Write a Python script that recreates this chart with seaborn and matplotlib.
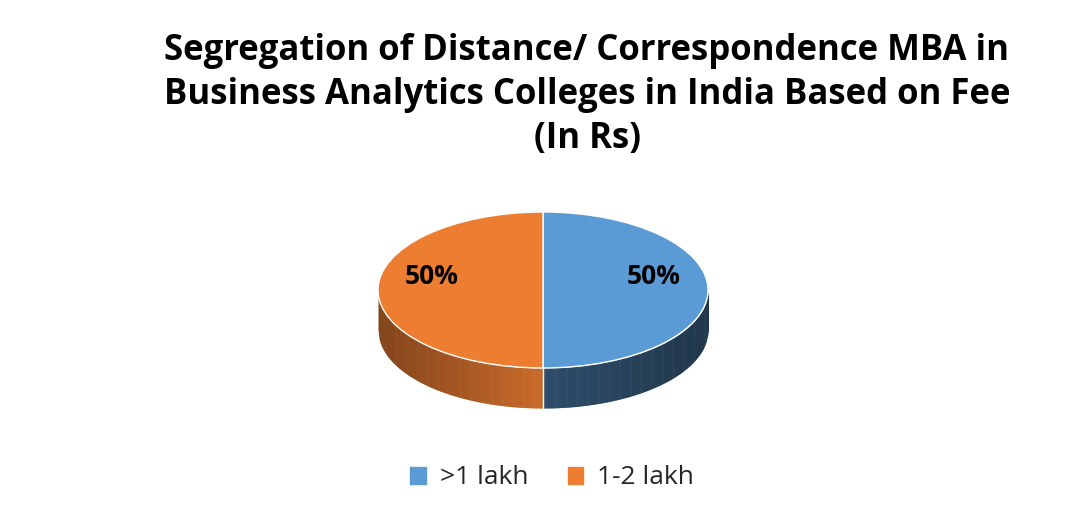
import numpy as np
import matplotlib
matplotlib.use("Agg")
import matplotlib.pyplot as plt
import matplotlib.colors as mcolors
import seaborn as sns

# chart data
categories = [">1 lakh", "1-2 lakh"]
shares = [50, 50]
colors = ["#5b9bd5", "#ed7d31"]
title = ("Segregation of Distance/ Correspondence MBA in\n"
         "Business Analytics Colleges in India Based on Fee\n(In Rs)")

sns.set_theme(style="white")
plt.rcParams["font.family"] = ["Open Sans", "DejaVu Sans"]

W, H = 1086, 517
fig = plt.figure(figsize=(W / 100, H / 100), dpi=100)

fig.text(587 / W, 1 - 95 / H, title, ha="center", va="center",
         fontsize=25, fontweight="bold", color="black", linespacing=1.3)

# pie axes: centre (543, 290), rx 165 px, ry 78 px
rx, ry, cx, cy = 165, 78, 543, 290
ylo, yhi = -1.6, 1.1
ax = fig.add_axes([(cx - rx) / W, (H - (cy - ylo * ry)) / H,
                   2 * rx / W, (yhi - ylo) * ry / H])
ax.axis("off")

# side of the cylinder (front half), shaded strip by strip
depth = 40 / ry
angles = np.cumsum([0] + shares) / sum(shares) * 360
xs = np.linspace(-1, 1, 300)
for i in range(len(xs) - 1):
    xm = (xs[i] + xs[i + 1]) / 2
    ang = np.degrees(np.arctan2(xm, -np.sqrt(max(0, 1 - xm ** 2)))) % 360
    k = np.searchsorted(angles, ang, side="right") - 1
    k = min(max(k, 0), len(shares) - 1)
    base = np.array(mcolors.to_rgb(colors[k]))
    t = abs(xm)
    shade = (0.5 - 0.15 * t) if k == 0 else (0.85 - 0.3 * t)
    seg = np.array([xs[i], xs[i + 1] + 0.004])
    yb = -np.sqrt(np.clip(1 - seg ** 2, 0, None))
    ax.fill_between(seg, yb, yb - depth, color=base * shade, lw=0,
                    antialiased=False)
ax.plot([0, 0], [-1, -1 - depth], color="white", lw=1)

wedges, texts, autotexts = ax.pie(
    shares, colors=colors, startangle=90, counterclock=False,
    autopct="%d%%", pctdistance=0.7, radius=1,
    wedgeprops=dict(edgecolor="white", linewidth=1),
    textprops=dict(fontsize=19, fontweight="bold", color="black"))
ax.set_xlim(-1, 1)
ax.set_ylim(ylo, yhi)
ax.set_aspect("auto")
for t in autotexts:
    x, y = t.get_position()
    t.set_position((x * 0.96, y + 0.17))

# legend
handles = [plt.Rectangle((0, 0), 1, 1, color=c) for c in colors]
fig.legend(handles, categories, loc="center", bbox_to_anchor=(552 / W, 1 - 478 / H),
           ncol=2, frameon=False, fontsize=19, handlelength=0.6, handleheight=0.6,
           columnspacing=1.5, handletextpad=0.5)

fig.savefig("out.png", dpi=100)
